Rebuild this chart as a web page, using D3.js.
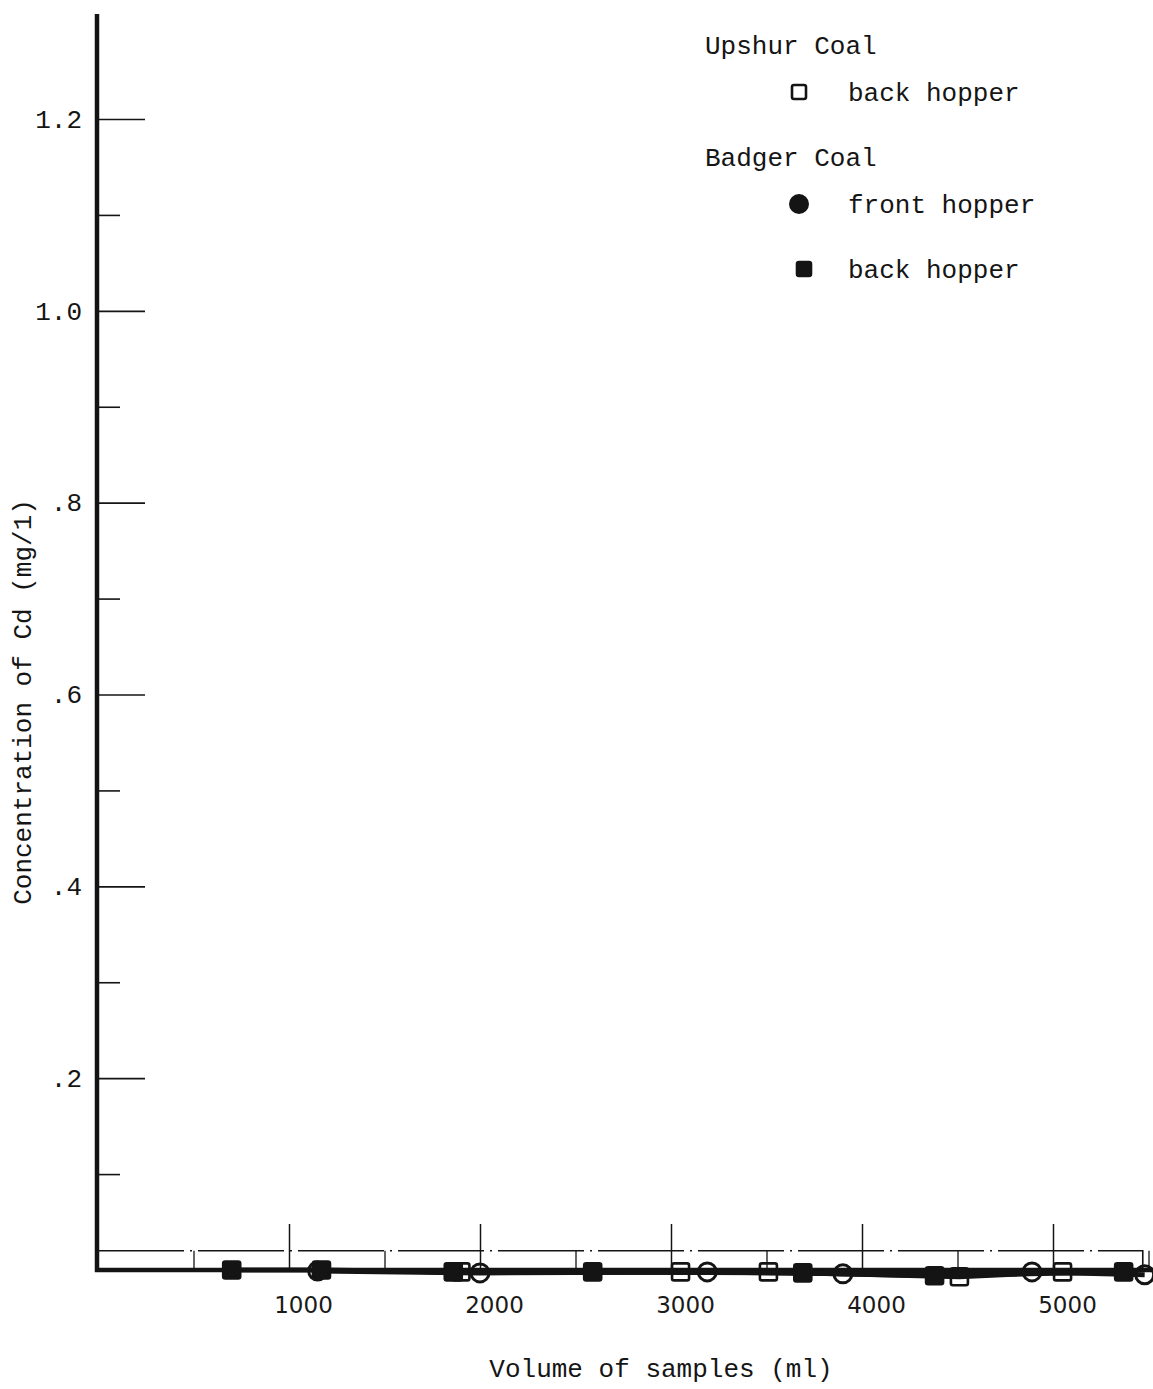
<!DOCTYPE html>
<html>
<head>
<meta charset="utf-8">
<script src="https://cdn.jsdelivr.net/npm/d3@7/dist/d3.min.js"></script>
<style>
  html, body { margin: 0; padding: 0; background: #fff; }
  svg { display: block; }
  .mono { font-family: "Liberation Mono", "Courier New", monospace; font-size: 26px; fill: #151515; }
  .num { font-family: "DejaVu Sans", sans-serif; font-size: 23px; fill: #1a1a1a; }
</style>
</head>
<body>
<svg id="chart" width="1153" height="1389"></svg>
<script>
// Cadmium concentration in leachate samples vs. cumulative sample volume
const volumeMajorTicks = [1000, 2000, 3000, 4000, 5000];
const volumeHalfTicks = [500, 1500, 2500, 3500, 4500, 5500];
const concMajorTicks = [0.2, 0.4, 0.6, 0.8, 1.0, 1.2];
const concMinorTicks = [0.1, 0.3, 0.5, 0.7, 0.9, 1.1];
const detectionLimit = 0.02;

// Upshur Coal, back hopper (open squares)
const upshurBackVolume = [1900, 3050, 3510, 4510, 5050];
const upshurBackConc   = [-0.002, -0.002, -0.002, -0.007, -0.002];

// Badger Coal, front hopper (circles)
const badgerFrontVolume = [1150, 2000, 3190, 3900, 4890, 5480];
const badgerFrontConc   = [-0.001, -0.003, -0.002, -0.004, -0.002, -0.005];

// Badger Coal, back hopper (filled squares)
const badgerBackVolume = [700, 1170, 1860, 2590, 3690, 4380, 5370];
const badgerBackConc   = [0, 0, -0.002, -0.002, -0.003, -0.006, -0.002];

const ink = "#141414";
const svg = d3.select("#chart");

const x = d3.scaleLinear().domain([0, 5500]).range([98, 1148.5]);
const y = d3.scaleLinear().domain([0, 1.2]).range([1270, 119]);

const zip = (xs, ys) => xs.map((v, i) => ({ v, c: ys[i] }));
const series = [
  { name: "upshurBack", pts: zip(upshurBackVolume, upshurBackConc), shape: "openSquare" },
  { name: "badgerFront", pts: zip(badgerFrontVolume, badgerFrontConc), shape: "circle" },
  { name: "badgerBack", pts: zip(badgerBackVolume, badgerBackConc), shape: "filledSquare" }
];

// y axis: long ticks with labels, short ticks between
const fmtConc = d => d >= 1 ? d.toFixed(1) : d.toFixed(1).replace(/^0/, "");
const yMajor = svg.append("g").attr("transform", `translate(${x(0) - 1},0)`)
  .call(d3.axisLeft(y).tickValues(concMajorTicks).tickSizeInner(-48).tickSizeOuter(0)
    .tickPadding(15).tickFormat(fmtConc));
yMajor.select(".domain").remove();
yMajor.selectAll("line").attr("stroke", ink).attr("stroke-width", 1.6);
yMajor.selectAll("text").attr("class", "mono").attr("font-family", null).attr("font-size", null).attr("fill", null);

const yMinor = svg.append("g").attr("transform", `translate(${x(0) - 1},0)`)
  .call(d3.axisLeft(y).tickValues(concMinorTicks).tickSizeInner(-23).tickSizeOuter(0).tickFormat(""));
yMinor.select(".domain").remove();
yMinor.selectAll("line").attr("stroke", ink).attr("stroke-width", 1.6);

// x axis: thousand ticks rise above the baseline, half ticks reach the detection line
const xMajor = svg.append("g").attr("transform", `translate(0,${y(0)})`)
  .call(d3.axisBottom(x).tickValues(volumeMajorTicks).tickSizeInner(-46).tickSizeOuter(0)
    .tickPadding(27).tickFormat(d3.format("d")));
xMajor.select(".domain").remove();
xMajor.selectAll("line").attr("stroke", ink).attr("stroke-width", 1.5);
xMajor.selectAll("text").attr("class", "num").attr("font-family", null).attr("font-size", null)
  .attr("fill", null).attr("dx", 14);

const xHalf = svg.append("g").attr("transform", `translate(0,${y(0)})`)
  .call(d3.axisBottom(x).tickValues(volumeHalfTicks).tickSizeInner(-(y(0) - y(detectionLimit)))
    .tickSizeOuter(0).tickFormat(""));
xHalf.select(".domain").remove();
xHalf.selectAll("line").attr("stroke", ink).attr("stroke-width", 1.3);

// detection-limit reference line (dash-dot), dropping to the last sample
svg.append("path")
  .attr("d", d3.line().x(d => x(d[0])).y(d => y(d[1]))([[0, detectionLimit], [5470, detectionLimit], [5470, 0]]))
  .attr("fill", "none").attr("stroke", ink).attr("stroke-width", 1.6)
  .attr("stroke-dasharray", "86,6,2,6");

// axes lines
svg.append("line").attr("x1", x(0) - 1).attr("x2", x(0) - 1).attr("y1", 14).attr("y2", y(0) + 2)
  .attr("stroke", ink).attr("stroke-width", 4.5);
svg.append("line").attr("x1", x(0) - 3).attr("x2", 1153).attr("y1", y(0)).attr("y2", y(0))
  .attr("stroke", ink).attr("stroke-width", 4.5);

// connecting lines
const line = d3.line().x(d => x(d.v)).y(d => y(d.c));
series.forEach(s => {
  svg.append("path").datum(s.pts).attr("d", line)
    .attr("fill", "none").attr("stroke", ink).attr("stroke-width", 5);
});

// markers
function drawMarker(g, shape, cx, cy, legend) {
  if (shape === "circle") {
    g.append("circle").attr("cx", cx).attr("cy", cy).attr("r", legend ? 8.5 : 9)
      .attr("fill", legend ? ink : "none").attr("stroke", ink).attr("stroke-width", 3);
  } else {
    const s = legend ? 14 : 17;
    g.append("rect").attr("x", cx - s / 2).attr("y", cy - s / 2).attr("width", s).attr("height", s)
      .attr("rx", 2)
      .attr("fill", shape === "filledSquare" ? ink : (legend ? "#fff" : "none"))
      .attr("stroke", ink).attr("stroke-width", 2.6);
  }
}
const order = ["badgerBack", "upshurBack", "badgerFront"];
order.forEach(n => {
  const s = series.find(d => d.name === n);
  const g = svg.append("g");
  s.pts.forEach(p => drawMarker(g, s.shape, x(p.v), y(p.c), false));
});

// axis titles
svg.append("text").attr("class", "mono").attr("text-anchor", "middle")
  .attr("transform", "translate(31,702) rotate(-90)").text("Concentration of Cd (mg/1)");
svg.append("text").attr("class", "mono").attr("text-anchor", "middle")
  .attr("x", 661).attr("y", 1377).text("Volume of samples (ml)");

// legend
const legend = svg.append("g");
const legendRows = [
  { kind: "head", text: "Upshur Coal", y: 54 },
  { kind: "item", shape: "openSquare", text: "back hopper", y: 101 },
  { kind: "head", text: "Badger Coal", y: 166 },
  { kind: "item", shape: "circle", text: "front hopper", y: 213 },
  { kind: "item", shape: "filledSquare", text: "back hopper", y: 278 }
];
legendRows.forEach(r => {
  if (r.kind === "head") {
    legend.append("text").attr("class", "mono").attr("x", 705).attr("y", r.y).text(r.text);
  } else {
    drawMarker(legend, r.shape, r.shape === "filledSquare" ? 804 : 799, r.y - 9, true);
    legend.append("text").attr("class", "mono").attr("x", 848).attr("y", r.y).text(r.text);
  }
});
</script>
</body>
</html>
